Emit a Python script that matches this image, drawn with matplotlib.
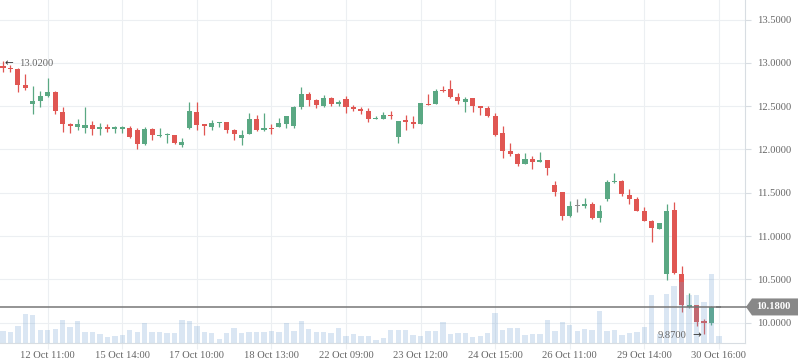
import matplotlib
matplotlib.use("Agg")
import matplotlib.pyplot as plt
from matplotlib.patches import Polygon
import numpy as np

# ---------------- data ----------------
opens = [12.97, 12.94, 12.93, 12.745, 12.53, 12.565, 12.62, 12.67, 12.43, 12.30,
         12.265, 12.25, 12.28, 12.245, 12.255, 12.245, 12.245, 12.25, 12.225, 12.065,
         12.235, 12.16, 12.17, 12.165, 12.055, 12.25, 12.435, 12.29, 12.265, 12.31,
         12.32, 12.225, 12.135, 12.175, 12.35, 12.23, 12.25, 12.255, 12.30, 12.275,
         12.495, 12.64, 12.57, 12.50, 12.595, 12.525, 12.585, 12.485, 12.47, 12.445,
         12.35, 12.355, 12.40, 12.15, 12.335, 12.32, 12.30, 12.525, 12.53, 12.69,
         12.70, 12.605, 12.55, 12.59, 12.50, 12.48, 12.39, 12.19, 11.98, 11.945,
         11.835, 11.89, 11.86, 11.88, 11.59, 11.51, 11.235, 11.35, 11.35, 11.37,
         11.21, 11.425, 11.625, 11.635, 11.475, 11.43, 11.29, 11.17, 11.08, 10.565,
         11.30, 10.56, 10.18, 10.20, 10.02, 9.99, 10.18]
highs = [13.02, 12.98, 12.94, 12.87, 12.73, 12.68, 12.83, 12.675, 12.49, 12.31,
         12.35, 12.49, 12.33, 12.305, 12.30, 12.275, 12.27, 12.27, 12.245, 12.26,
         12.25, 12.25, 12.19, 12.165, 12.13, 12.55, 12.55, 12.30, 12.34, 12.315,
         12.32, 12.24, 12.225, 12.42, 12.40, 12.42, 12.295, 12.365, 12.39, 12.50,
         12.72, 12.665, 12.585, 12.63, 12.605, 12.57, 12.62, 12.515, 12.49, 12.48,
         12.39, 12.435, 12.45, 12.33, 12.40, 12.385, 12.54, 12.64, 12.695, 12.735,
         12.80, 12.65, 12.605, 12.595, 12.50, 12.50, 12.42, 12.27, 12.075, 11.96,
         11.96, 11.925, 11.97, 11.88, 11.64, 11.51, 11.405, 11.43, 11.44, 11.39,
         11.36, 11.65, 11.73, 11.645, 11.545, 11.45, 11.33, 11.185, 11.15, 11.37,
         11.395, 10.65, 10.345, 10.20, 10.04, 10.195, 10.18]
lows = [12.90, 12.90, 12.66, 12.69, 12.41, 12.49, 12.61, 12.41, 12.20, 12.19,
        12.225, 12.19, 12.17, 12.17, 12.205, 12.19, 12.19, 12.135, 12.00, 12.05,
        12.11, 12.15, 12.07, 12.06, 12.03, 12.24, 12.225, 12.165, 12.225, 12.265,
        12.19, 12.11, 12.05, 12.175, 12.215, 12.21, 12.175, 12.255, 12.25, 12.25,
        12.47, 12.505, 12.485, 12.49, 12.505, 12.505, 12.425, 12.44, 12.415, 12.32,
        12.35, 12.355, 12.355, 12.08, 12.22, 12.25, 12.30, 12.515, 12.53, 12.66,
        12.59, 12.53, 12.435, 12.435, 12.40, 12.37, 12.16, 11.905, 11.925, 11.81,
        11.835, 11.78, 11.85, 11.71, 11.46, 11.18, 11.22, 11.28, 11.325, 11.195,
        11.16, 11.405, 11.61, 11.465, 11.37, 11.29, 11.17, 10.93, 11.08, 10.49,
        10.56, 10.125, 10.17, 9.96, 9.87, 9.975, 10.18]
closes = [12.94, 12.93, 12.75, 12.71, 12.56, 12.62, 12.665, 12.45, 12.30, 12.275,
          12.295, 12.28, 12.235, 12.255, 12.245, 12.255, 12.255, 12.15, 12.06, 12.235,
          12.17, 12.17, 12.18, 12.07, 12.085, 12.445, 12.285, 12.27, 12.31, 12.315,
          12.225, 12.18, 12.165, 12.35, 12.23, 12.25, 12.24, 12.305, 12.39, 12.49,
          12.64, 12.575, 12.52, 12.595, 12.53, 12.55, 12.49, 12.475, 12.44, 12.355,
          12.36, 12.40, 12.39, 12.33, 12.325, 12.295, 12.54, 12.515, 12.675, 12.68,
          12.61, 12.565, 12.585, 12.505, 12.48, 12.39, 12.165, 11.985, 11.945, 11.83,
          11.89, 11.86, 11.87, 11.79, 11.51, 11.235, 11.35, 11.35, 11.37, 11.21,
          11.29, 11.62, 11.63, 11.49, 11.43, 11.29, 11.17, 11.09, 11.15, 11.29,
          10.57, 10.20, 10.20, 10.01, 10.00, 10.18, 10.18]
volumes = [11, 10, 16, 28.7, 27.7, 12.7, 12.7, 13.7, 22.7, 15,
           21.7, 10, 10, 8.7, 5, 6, 7, 12, 10, 19,
           10, 10, 9, 9, 22.7, 21.7, 16, 10, 9, 3.7,
           9, 14.7, 9, 10.3, 10, 10.7, 11.7, 10, 19, 11.7,
           21.7, 13.7, 10, 10, 9, 14.7, 6, 8.7, 6, 6.7,
           2.7, 4.7, 12.7, 12, 12.3, 7.3, 6.3, 11.3, 11.3, 20.7,
           8.3, 9.3, 9.3, 5.3, 6.3, 9.3, 29.7, 12.3, 14.3, 14.3,
           7.3, 8.3, 8.3, 22.3, 11.3, 20.3, 17.3, 11.3, 13.3, 12.3,
           31.3, 11.3, 12.3, 7.3, 9.3, 10.3, 15.3, 47.3, 8.3, 48.5,
           56.5, 60.3, 47.5, 47.5, 40.5, 68.4, 6.4]
tick_index = [6, 16, 26, 36, 46, 56, 66, 76, 86, 96]
tick_labels = ["12 Oct 11:00", "15 Oct 14:00", "17 Oct 10:00", "18 Oct 13:00",
               "22 Oct 09:00", "23 Oct 12:00", "24 Oct 15:00", "26 Oct 11:00",
               "29 Oct 14:00", "30 Oct 16:00"]
y_ticks = [10.0, 10.5, 11.0, 11.5, 12.0, 12.5, 13.0, 13.5]
last_price = 10.18
max_price = 13.02
min_price = 9.87

# ---------------- style ----------------
UP = "#5aa883"
DOWN = "#e05652"
FLAT = "#8a8a8a"
GRID = "#eceff2"
AXIS = "#d8dde2"
TXT = "#666666"
FONT = ["Liberation Serif", "DejaVu Sans"]
ARROWFONT = ["DejaVu Sans"]

W, H = 798, 363
fig = plt.figure(figsize=(W / 100, H / 100), dpi=100)
ax = fig.add_axes([0, (H - 342.5) / H, 745 / W, 342.5 / H])
axv = ax.twinx()

x = np.arange(len(opens))
o = np.array(opens); c = np.array(closes); hi = np.array(highs); lo = np.array(lows)
colors = [UP if cc > oo else (DOWN if cc < oo else FLAT) for oo, cc in zip(o, c)]

ax.vlines(x, lo, hi, colors=colors, linewidth=0.9, zorder=2)
min_h = 0.016
body_h = np.abs(c - o)
body_b = np.minimum(o, c)
small = body_h < min_h
body_b = np.where(small, (o + c) / 2 - min_h / 2, body_b)
body_h = np.where(small, min_h, body_h)
ax.bar(x, body_h, bottom=body_b, width=0.68, color=colors, linewidth=0, zorder=2)

ax.set_xlim(-0.4, 99.5)
ax.set_ylim(9.769, 13.728)
ax.yaxis.tick_right()
ax.yaxis.set_label_position("right")
ax.set_yticks(y_ticks)
ax.set_yticklabels([f"{v:.4f}" for v in y_ticks], family=FONT, fontsize=7.6, color=TXT)
ax.set_xticks(tick_index)
ax.set_xticklabels(tick_labels, family=FONT, fontsize=7.6, color=TXT)
ax.tick_params(axis="y", which="both", left=False, labelleft=False, right=True,
               labelright=True, length=4, width=0.8, color=AXIS, pad=5)
ax.tick_params(axis="x", length=4.5, width=0.8, color=GRID, pad=1.5)
ax.grid(True, color=GRID, linewidth=0.8)
ax.set_axisbelow(True)
for s in ["left", "top"]:
    ax.spines[s].set_visible(False)
for s in ["right", "bottom"]:
    ax.spines[s].set_color(AXIS)
    ax.spines[s].set_linewidth(0.8)

# volume pane (drawn over candles, translucent)
axv.bar(x, volumes, width=0.72, color="#6f9fd0", alpha=0.25, linewidth=0, zorder=3)
axv.set_ylim(0, max(volumes) / 0.2)
axv.yaxis.set_visible(False)
for s in axv.spines.values():
    s.set_visible(False)

# last price line
axv.plot([0, 1.003], [last_price, last_price], transform=ax.get_yaxis_transform(),
         color="#777777", linewidth=1.1, zorder=5, clip_on=False)

# max / min annotations
imax = int(np.argmax(hi)); imin = int(np.argmin(lo))
axv.annotate("\u2190", xy=(x[imax], max_price), xycoords=ax.transData,
             xytext=(1.0, -1.5), textcoords="offset points", ha="left", va="center",
             family=ARROWFONT, fontsize=7.5, color="#333333", zorder=6)
axv.annotate(f"{max_price:.4f}", xy=(x[imax], max_price), xycoords=ax.transData,
             xytext=(11.5, -1.8), textcoords="offset points", ha="left", va="center",
             family=FONT, fontsize=7.6, color=TXT, zorder=6)
axv.annotate("\u2192", xy=(x[imin], min_price), xycoords=ax.transData,
             xytext=(-2.0, -0.8), textcoords="offset points", ha="right", va="center",
             family=ARROWFONT, fontsize=7.5, color="#333333", zorder=6)
axv.annotate(f"{min_price:.4f}", xy=(x[imin], min_price), xycoords=ax.transData,
             xytext=(-12.5, -1), textcoords="offset points", ha="right", va="center",
             family=FONT, fontsize=7.6, color=TXT, zorder=6)

# last price tag on the right axis
fig.canvas.draw()
yf = fig.transFigure.inverted().transform(ax.transData.transform((0, last_price)))[1]
hh = 8.5 / H
tag = Polygon([(746 / W, yf), (752 / W, yf + hh), (1.0, yf + hh), (1.0, yf - hh), (752 / W, yf - hh)],
              closed=True, transform=fig.transFigure, facecolor="#888888", edgecolor="none", zorder=10)
fig.patches.append(tag)
fig.text(773 / W, yf, f"{last_price:.4f}", ha="center", va="center", family=FONT,
         fontsize=7.6, fontweight="bold", color="white", zorder=11)

fig.savefig("out.png", dpi=100)
